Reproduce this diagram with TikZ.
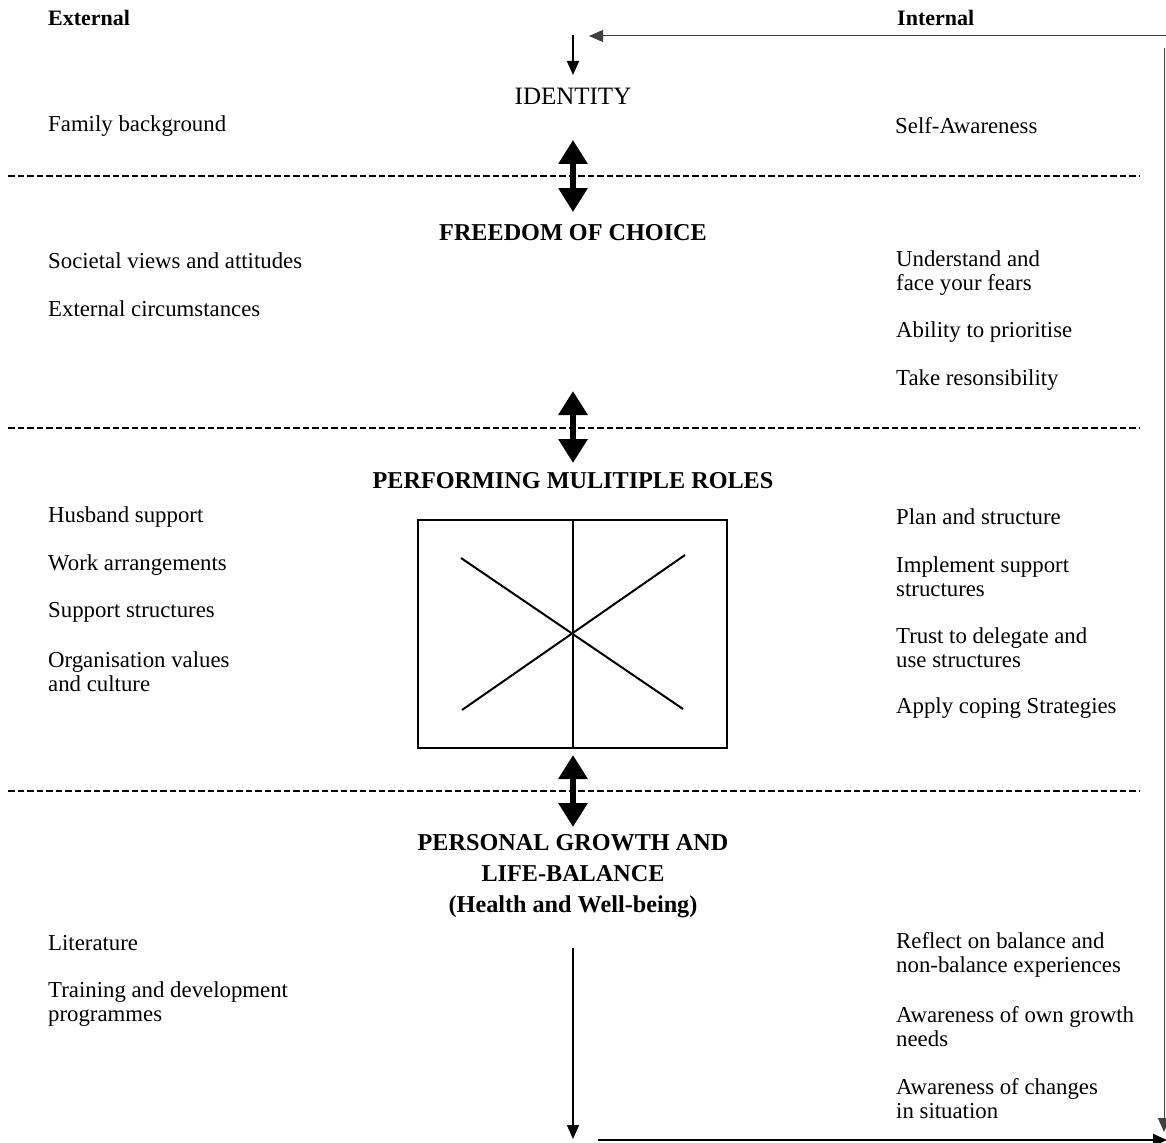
\documentclass[tikz,border=0pt]{standalone}
\usepackage{fontspec}
\setmainfont{Liberation Serif}
\usetikzlibrary{arrows.meta}
\begin{document}
\begin{tikzpicture}[x=1pt,y=-1pt,
  txt/.style={anchor=west, inner sep=0pt, align=left, font=\fontsize{22.8}{24}\selectfont},
  head/.style={inner sep=0pt, align=center, font=\bfseries\fontsize{24.2}{31}\selectfont},
  side/.style={anchor=west, inner sep=0pt, font=\bfseries\fontsize{22}{24}\selectfont},
  sepline/.style={line width=2.3pt, dash pattern=on 6.5pt off 3pt},
  dbl/.style={line width=6pt, {Triangle[length=24pt,width=28pt]}-{Triangle[length=24pt,width=28pt]}},
  thinarrow/.style={line width=1.6pt, -{Triangle[length=14pt,width=12pt]}},
  flow/.style={line width=1pt, black!75, -{Triangle[length=14pt,width=12pt]}}]
\useasboundingbox (0,0) rectangle (1166,1142);

% side headers
\node[side] (ext) at (48,18) {External};
\node[side] (int) at (897,18) {Internal};

% level headings
\node[inner sep=0pt, font=\fontsize{25}{30}\selectfont] (identity) at (573,96) {IDENTITY};
\node[head] (freedom) at (573,233) {FREEDOM OF CHOICE};
\node[head] (roles) at (573,481) {PERFORMING MULITIPLE ROLES};
\node[head] (growth) at (573,876) {PERSONAL GROWTH AND\\LIFE-BALANCE\\(Health and Well-being)};

% left texts
\node[txt] (l1) at (48,126) {Family background};
\node[txt] (l2) at (48,261) {Societal views and attitudes};
\node[txt] (l3) at (48,309) {External circumstances};
\node[txt] (l4) at (48,517) {Husband support};
\node[txt] (l5) at (48,565) {Work arrangements};
\node[txt] (l6) at (48,612) {Support structures};
\node[txt] (l7) at (48,672) {Organisation values\\and culture};
\node[txt] (l8) at (48,943) {Literature};
\node[txt] (l9) at (48,1004) {Training and development\\programmes};

% right texts
\node[txt] (r1) at (895,126) {Self-Awareness};
\node[txt] (r2) at (896,273) {Understand and\\face your fears};
\node[txt] (r3) at (896,332) {Ability to prioritise};
\node[txt] (r4) at (896,380) {Take resonsibility};
\node[txt] (r5) at (896,517) {Plan and structure};
\node[txt] (r6) at (896,577) {Implement support\\structures};
\node[txt] (r7) at (896,648) {Trust to delegate and\\use structures};
\node[txt] (r8) at (896,708) {Apply coping Strategies};
\node[txt] (r9) at (896,955) {Reflect on balance and\\non-balance experiences};
\node[txt] (r10) at (896,1027) {Awareness of own growth\\needs};
\node[txt] (r11) at (896,1099) {Awareness of changes\\in situation};

% dashed separators
\coordinate (s1a) at (8,176);  \coordinate (s1b) at (1140,176);
\coordinate (s2a) at (8,428);  \coordinate (s2b) at (1140,428);
\coordinate (s3a) at (8,791);  \coordinate (s3b) at (1140,791);
\draw[sepline] (s1a) -- (s1b);
\draw[sepline] (s2a) -- (s2b);
\draw[sepline] (s3a) -- (s3b);

% double arrows between levels
\coordinate (d1a) at (573,140); \coordinate (d1b) at (573,212);
\coordinate (d2a) at (573,391); \coordinate (d2b) at (573,463);
\coordinate (d3a) at (573,755); \coordinate (d3b) at (573,827);
\draw[dbl] (d1a) -- (d1b);
\draw[dbl] (d2a) -- (d2b);
\draw[dbl] (d3a) -- (d3b);

% roles box
\node[draw, line width=2pt, minimum width=309pt, minimum height=228pt, inner sep=0pt] (box) at (572.5,634) {};
\draw[line width=2pt] (box.north) -- (box.south);
\coordinate (x1) at (461,558); \coordinate (x2) at (683,709);
\coordinate (x3) at (462,710); \coordinate (x4) at (685,555);
\draw[line width=2pt] (x1) -- (x2);
\draw[line width=2pt] (x3) -- (x4);

% feedback loop
\coordinate (top0) at (573,35);
\coordinate (top1) at (573,75);
\coordinate (tr) at (1166,36);
\coordinate (tl) at (589,36);
\coordinate (rv0) at (1164,48);
\coordinate (rv1) at (1164,1132);
\coordinate (dn0) at (573,948);
\coordinate (dn1) at (573,1139);
\coordinate (bh0) at (598,1140);
\coordinate (bh1) at (1167,1140);
\draw[thinarrow] (top0) -- (top1);
\draw[flow] (tr) -- (tl);
\draw[flow] (rv0) -- (rv1);
\draw[thinarrow] (dn0) -- (dn1);
\draw[line width=2pt, -{Triangle[length=14pt,width=12pt]}] (bh0) -- (bh1);
\end{tikzpicture}
\end{document}
